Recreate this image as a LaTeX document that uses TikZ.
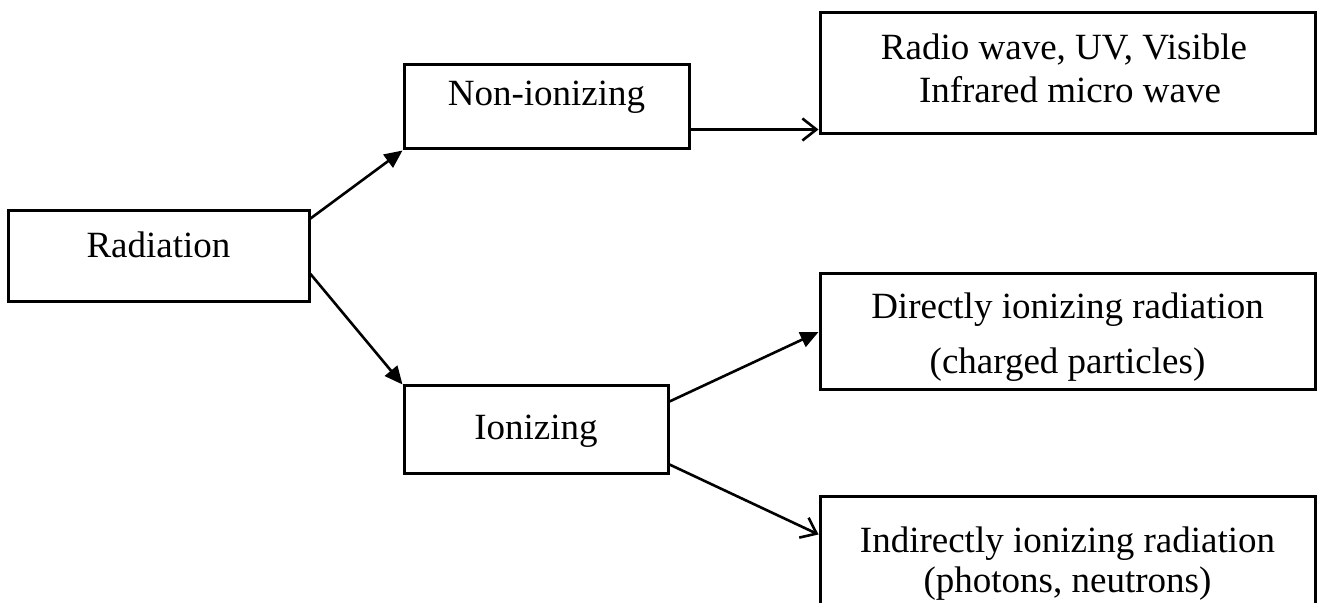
\documentclass[tikz,border=0pt]{standalone}
\usepackage{fontspec}
\setmainfont{Liberation Serif}
\usetikzlibrary{arrows.meta,calc}
\begin{document}
\begin{tikzpicture}[x=0.5pt,y=-0.5pt,
  box/.style={draw=black,line width=1.5pt,rectangle,inner sep=0pt,fill=white},
  txt/.style={inner sep=0pt,anchor=base,font=\fontsize{18.5}{22}\selectfont},
  fillarrow/.style={line width=1.3pt,-{Triangle[length=9pt,width=8pt]}},
  openarrow/.style={line width=1.3pt,-{Straight Barb[length=7pt,width=11pt,line width=1.3pt]}}]
\useasboundingbox (0,0) rectangle (1317,603);
\clip (0,0) rectangle (1317,603);
% boxes
\node[box,minimum width=150.5pt,minimum height=45.5pt] (rad) at (158.5,256.5) {};
\node[box,minimum width=142.5pt,minimum height=42pt] (non) at (546.5,107) {};
\node[box,minimum width=132pt,minimum height=44pt] (ion) at (536,430) {};
\node[box,minimum width=247.5pt,minimum height=60.5pt] (radio) at (1067.5,73.5) {};
\node[box,minimum width=247.5pt,minimum height=58pt] (dir) at (1067.5,332) {};
\node[box,minimum width=247.5pt,minimum height=61.5pt] (ind) at (1067.5,558.5) {};
% texts
\node[txt] (radT) at (158.5,258) {Radiation};
\node[txt] (nonT) at (546.5,106) {Non-ionizing};
\node[txt] (ionT) at (536,440) {Ionizing};
\node[txt] (radioA) at (1064,60) {Radio wave, UV, Visible};
\node[txt] (radioB) at (1070,103) {Infrared micro wave};
\node[txt] (dirA) at (1067.5,319) {Directly ionizing radiation};
\node[txt] (dirB) at (1067.5,374) {(charged particles)};
\node[txt] (indA) at (1067.5,553) {Indirectly ionizing radiation};
\node[txt] (indB) at (1067.5,593) {(photons, neutrons)};
% connectors
\draw[fillarrow] ($(rad.north east)+(0,9)$) -- (non.south west);
\draw[fillarrow] ($(rad.east)+(0,17.5)$) -- (ion.north west);
\coordinate (a3) at ($(non.south east)+(0,-21)$);
\draw[openarrow] (a3) -- (a3 -| radio.west);
\draw[fillarrow] ($(ion.north east)+(0,17)$) -- (dir.west);
\draw[openarrow] ($(ion.south east)+(0,-11)$) -- ($(ind.north west)+(0,39)$);
\end{tikzpicture}
\end{document}
